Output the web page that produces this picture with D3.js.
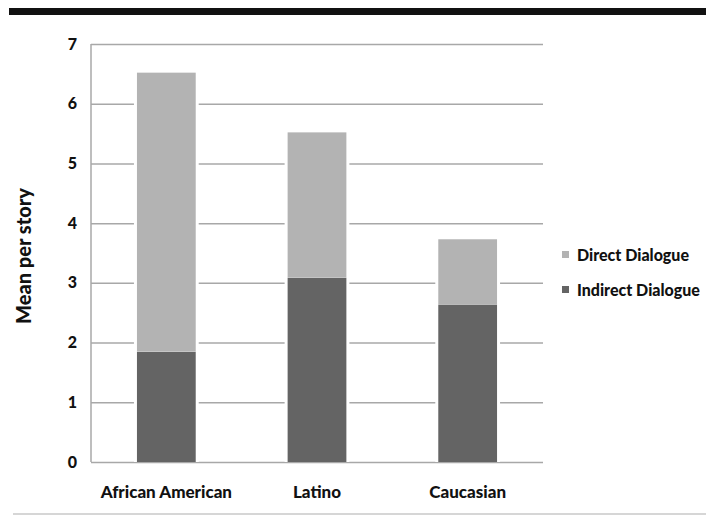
<!DOCTYPE html>
<html>
<head>
<meta charset="utf-8">
<script src="https://cdn.jsdelivr.net/npm/d3@7"></script>
<style>
  html, body { margin: 0; padding: 0; background: #fff; }
  svg { display: block; }
  text { font-family: Lato, "Open Sans", sans-serif; font-weight: 900; fill: #111; }
</style>
</head>
<body>
<svg id="chart" width="706" height="520"></svg>
<script>
const categories = ["African American", "Latino", "Caucasian"];
const indirectDialogue = [1.85, 3.09, 2.64];
const directDialogue = [4.67, 2.43, 1.09];
const seriesNames = ["Indirect Dialogue", "Direct Dialogue"];
const yTicks = [0, 1, 2, 3, 4, 5, 6, 7];

const colors = { "Indirect Dialogue": "#646464", "Direct Dialogue": "#b3b3b3" };

const svg = d3.select("#chart");
const W = 706, H = 520;
const plotLeft = 91, plotRight = 543, plotTop = 44, plotBottom = 462;

// frame rules
svg.append("rect").attr("x", 9).attr("y", 8).attr("width", W - 9).attr("height", 7).attr("fill", "#111");
svg.append("line").attr("x1", 13).attr("x2", W).attr("y1", 514).attr("y2", 514)
  .attr("stroke", "#c8c8c8").attr("stroke-width", 1.5);

const x = d3.scaleBand().domain(categories).range([plotLeft, plotRight]).paddingInner(0.61).paddingOuter(0.305);
const y = d3.scaleLinear().domain([0, 7]).range([plotBottom, plotTop]);

// gridlines
const yAxis = d3.axisLeft(y).tickValues(yTicks).tickSize(-(plotRight - plotLeft)).tickPadding(14).tickFormat(d3.format("d"));
const gy = svg.append("g").attr("transform", `translate(${plotLeft},0)`).call(yAxis);
gy.select(".domain").remove();
gy.selectAll(".tick line").attr("stroke", "#a8a8a8").attr("stroke-width", 1.5);
gy.selectAll(".tick text").style("font-size", "16px").attr("fill", "#111").style("font-family", "Lato, sans-serif").style("font-weight", "900");

// y axis line
svg.append("line").attr("x1", plotLeft).attr("x2", plotLeft).attr("y1", plotTop).attr("y2", plotBottom)
  .attr("stroke", "#a8a8a8").attr("stroke-width", 1.5);

// stacked bars
const rows = categories.map((c, i) => ({ cat: c, "Indirect Dialogue": indirectDialogue[i], "Direct Dialogue": directDialogue[i] }));
const stacked = d3.stack().keys(seriesNames)(rows);

const barG = svg.append("g");
stacked.forEach(layer => {
  layer.forEach(d => {
    const bx = x(d.data.cat), bw = x.bandwidth();
    const y0 = y(d[0]), y1 = y(d[1]);
    barG.append("rect").attr("x", bx - 3).attr("y", y1 - 2).attr("width", bw + 6).attr("height", (y0 - y1) + 2)
      .attr("fill", "#fff");
    barG.append("rect").attr("x", bx).attr("y", y1).attr("width", bw).attr("height", y0 - y1)
      .attr("fill", colors[layer.key]);
  });
});

// x labels
svg.append("g").selectAll("text").data(categories).join("text")
  .attr("x", d => x(d) + x.bandwidth() / 2)
  .attr("y", 498)
  .attr("text-anchor", "middle")
  .style("font-size", "17px")
  .text(d => d);

// y title
svg.append("text")
  .attr("transform", "translate(31,256) rotate(-90)")
  .attr("text-anchor", "middle")
  .style("font-size", "20px")
  .text("Mean per story");

// legend
const legendItems = ["Direct Dialogue", "Indirect Dialogue"];
const lg = svg.append("g").selectAll("g").data(legendItems).join("g")
  .attr("transform", (d, i) => `translate(562,${254.5 + i * 35})`);
lg.append("rect").attr("x", 0).attr("y", -3.5).attr("width", 7).attr("height", 7).attr("fill", d => colors[d]);
lg.append("text").attr("x", 15).attr("y", 6).style("font-size", "16px").text(d => d);
</script>
</body>
</html>
